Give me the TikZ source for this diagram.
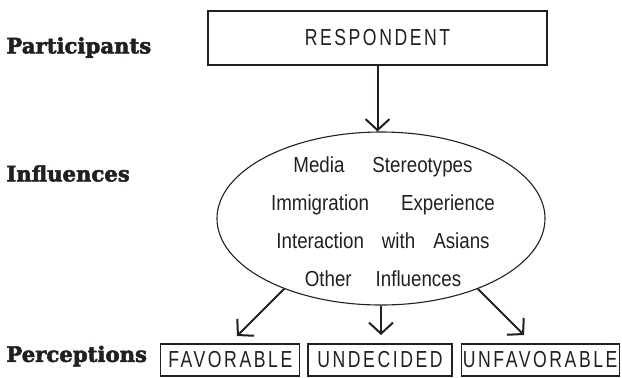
\documentclass[tikz,border=0pt]{standalone}
\usepackage{fontspec}
\usetikzlibrary{positioning, arrows.meta, shapes.geometric, calc}
\newfontfamily\headfont[BoldFeatures={FakeBold=2.5}]{DejaVu Serif}
\newfontfamily\gothfont[FakeStretch=0.86]{Liberation Sans}
\newfontfamily\capsfont[FakeStretch=0.76, LetterSpace=11]{Liberation Sans}
\definecolor{cInk}{HTML}{231F20}

\begin{document}
\begin{tikzpicture}[
  x=0.5pt, y=-0.5pt,
  level/.style={
    anchor=west, inner sep=0, text=cInk,
    font=\headfont\bfseries\fontsize{10.6}{12}\selectfont
  },
  capbox/.style={
    draw=cInk, line width=0.6pt, inner sep=0,
    minimum height=16pt, text=cInk,
    font=\capsfont\fontsize{11.6}{14}\selectfont
  },
  flow/.style={
    -{Straight Barb[length=5.5pt, width=12pt]}, line width=1pt, color=cInk
  },
]
\useasboundingbox (0,0) rectangle (622,377);

% row labels
\node[level] (part) at (6,47.5) {Participants};
\node[level] (infl) at (6,173.5) {Influences};
\node[level] (perc) at (6,356) {Perceptions};

% respondent and influences
\node[capbox, minimum width=169.5pt, minimum height=27pt] (resp) at (377.5,38) {RESPONDENT};
\node[ellipse, draw=cInk, line width=0.55pt, inner sep=0,
      minimum width=164pt, minimum height=86.5pt] (cloud) at (381,218.5) {};
\node[align=center, inner sep=0, text=cInk,
      font=\gothfont\fontsize{10.9}{19}\selectfont] (list) at (383,222)
  {Media\hspace{14pt}Stereotypes\\
   Immigration\hspace{16pt}Experience\\
   Interaction\hspace{9pt}with\hspace{9pt}Asians\\
   Other\hspace{12pt}Influences};

% perceptions
\node[capbox, minimum width=69.5pt] (fav) at (230.3,360) {FAVORABLE};
\node[capbox, minimum width=72pt, right=3.5pt of fav] (und) {UNDECIDED};
\node[capbox, minimum width=79pt, right=4pt of und] (unf) {UNFAVORABLE};

% arrows
\coordinate (favtip) at (237,336);
\coordinate (undtip) at (380,335);
\coordinate (unftip) at (524,335);
\draw[flow] (resp.south) -- (resp.south |- cloud.north);
\draw[flow] (cloud.216) -- (favtip);
\draw[flow] (cloud.south) -- (cloud.south |- undtip);
\draw[flow] (cloud.324) -- (unftip);

\end{tikzpicture}
\end{document}
